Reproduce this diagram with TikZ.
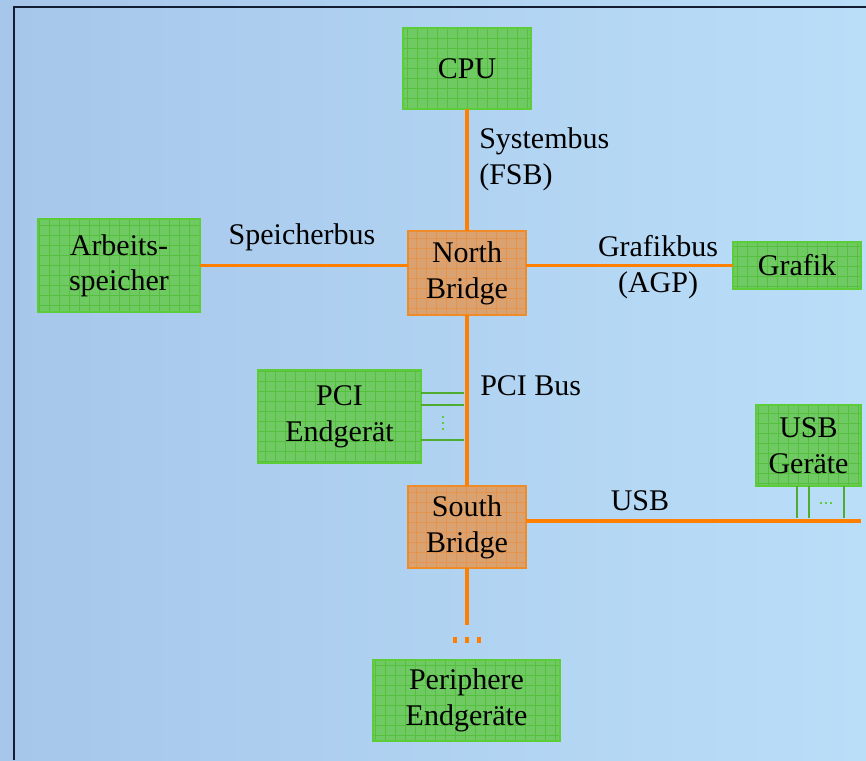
\documentclass[tikz,border=0pt]{standalone}
\usepackage{fontspec}
\setmainfont{Liberation Serif}
\definecolor{bgL}{RGB}{166,198,234}
\definecolor{bgR}{RGB}{186,222,248}
\definecolor{gfill}{RGB}{112,202,100}
\definecolor{ggrid}{RGB}{86,192,62}
\definecolor{gborder}{RGB}{92,204,56}
\definecolor{ofill}{RGB}{218,162,112}
\definecolor{ogrid}{RGB}{228,148,76}
\definecolor{oborder}{RGB}{240,140,40}
\definecolor{busor}{RGB}{255,128,0}
\definecolor{frame}{RGB}{20,30,50}
\tikzset{
  bx/.style={rectangle, draw=gborder, line width=1pt, fill=gfill, outer sep=0pt, inner sep=0pt,
    align=center, font=\fontsize{22.5}{27}\selectfont,
    path picture={\draw[ggrid, line width=0.6pt, step=7.5pt] (path picture bounding box.south west) grid (path picture bounding box.north east);}},
  obx/.style={bx, draw=oborder, fill=ofill,
    path picture={\draw[ogrid, line width=0.6pt, step=7.5pt] (path picture bounding box.south west) grid (path picture bounding box.north east);}},
  lbl/.style={font=\fontsize{22.5}{27}\selectfont, inner sep=0pt, align=left},
  bus/.style={draw=busor, line width=2.4pt},
  gline/.style={draw=gborder!85!black, line width=1pt},
}
\begin{document}
\begin{tikzpicture}[x=0.75pt, y=-0.75pt]
\shade[left color=bgL, right color=bgR] (0,0) rectangle (866,760);
\useasboundingbox (0,0) rectangle (866,760);
\draw[frame, line width=1.6pt] (14,760) -- (14,7) -- (866,7);

\node[bx, minimum width=128*0.75pt, minimum height=81*0.75pt] (cpu) at (467,68.5) {CPU};
\node[bx, minimum width=162*0.75pt, minimum height=93*0.75pt] (arb) at (119,265.5) {\raisebox{2pt}{\begin{tabular}{@{}c@{}}Arbeits-\\[-1pt]speicher\end{tabular}}};
\node[obx, minimum width=118*0.75pt, minimum height=84*0.75pt] (nb) at (467,273) {North\\Bridge};
\node[bx, minimum width=128*0.75pt, minimum height=47*0.75pt] (graf) at (797,265.5) {Grafik};
\node[bx, minimum width=163*0.75pt, minimum height=93*0.75pt] (pci) at (339.5,416.5) {PCI\\Endgerät};
\node[bx, minimum width=105*0.75pt, minimum height=81*0.75pt] (usb) at (808.5,445.5) {USB\\Geräte};
\node[obx, minimum width=118*0.75pt, minimum height=82*0.75pt] (sb) at (467,527) {South\\Bridge};
\node[bx, minimum width=187*0.75pt, minimum height=81*0.75pt] (per) at (466.5,700.5) {Periphere\\Endgeräte};

% buses
\draw[bus] (cpu.south) -- (nb.north);
\draw[bus] (nb.south) -- (sb.north);
\draw[bus] (arb.east) -- (arb.east -| nb.west);
\draw[bus] (nb.east |- graf.west) -- (graf.west);
\coordinate (usbend) at (861,521);
\draw[bus] (sb.east |- usbend) -- (usbend);
\coordinate (sbdown) at (467,625);
\draw[bus] (sb.south) -- (sbdown);
\foreach \xx in {455,467,479} \draw[busor, line width=2.4pt] (\xx,637) -- (\xx,643);

% PCI connections
\coordinate (p1) at (464,393);
\coordinate (p2) at (464,405);
\coordinate (p3) at (464,440);
\draw[gline] (pci.east |- p1) -- (p1);
\draw[gline] (pci.east |- p2) -- (p2);
\draw[gline] (pci.east |- p3) -- (p3);
\foreach \yy in {417,423,429} \fill[gborder] (442.3,\yy-0.7) rectangle (443.7,\yy+0.7);

% USB connections
\coordinate (u1) at (797,518);
\coordinate (u2) at (809,518);
\coordinate (u3) at (844,518);
\draw[gline] (usb.south -| u1) -- (u1);
\draw[gline] (usb.south -| u2) -- (u2);
\draw[gline] (usb.south -| u3) -- (u3);
\foreach \xx in {821,826,831} \fill[gborder] (\xx-0.7,502.3) rectangle (\xx+0.7,503.7);

% labels
\node[lbl, anchor=west] (lsys) at (479,159.5) {Systembus\\(FSB)};
\node[lbl] (lspe) at (302,237) {Speicherbus};
\node[lbl, align=center] (lgra) at (658,267) {Grafikbus\\(AGP)};
\node[lbl, anchor=west] (lpci) at (480,385.5) {PCI Bus};
\node[lbl] (lusb) at (640,500.5) {USB};
\end{tikzpicture}
\end{document}
